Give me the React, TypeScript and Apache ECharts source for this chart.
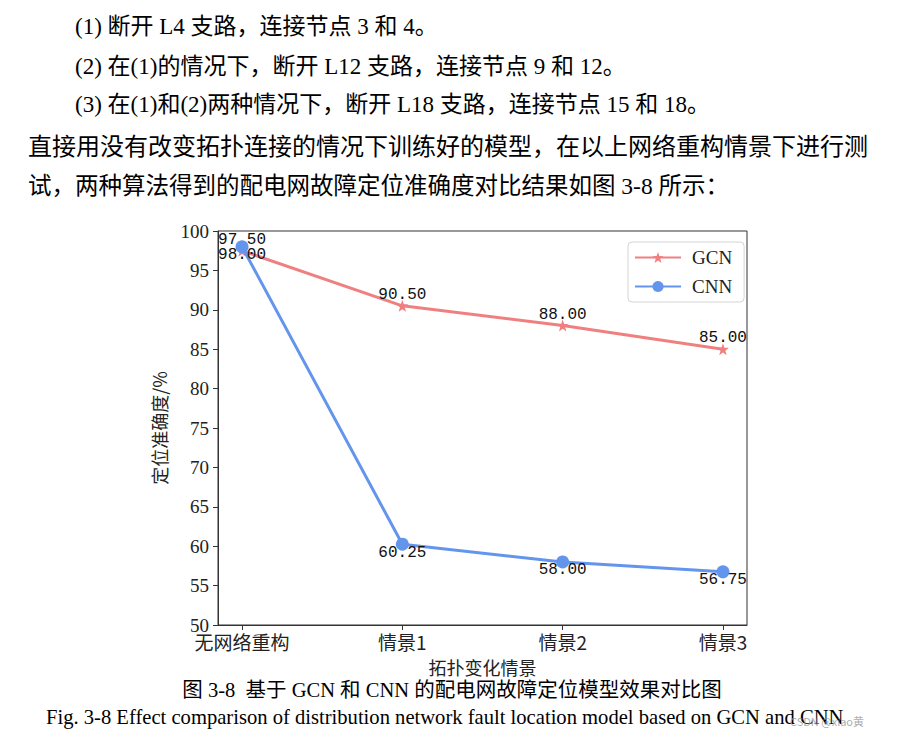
import React, { useEffect, useRef } from "react";
import * as echarts from "echarts";

const categories = ["无网络重构", "情景1", "情景2", "情景3"];
const gcnValues = [97.5, 90.5, 88.0, 85.0];
const cnnValues = [98.0, 60.25, 58.0, 56.75];
const seriesNames = ["GCN", "CNN"];
const paragraphLines = [
  "(1) 断开 L4 支路，连接节点 3 和 4。",
  "(2) 在(1)的情况下，断开 L12 支路，连接节点 9 和 12。",
  "(3) 在(1)和(2)两种情况下，断开 L18 支路，连接节点 15 和 18。",
  "直接用没有改变拓扑连接的情况下训练好的模型，在以上网络重构情景下进行测",
  "试，两种算法得到的配电网故障定位准确度对比结果如图 3-8 所示：",
];
const captionCn = "图 3-8  基于 GCN 和 CNN 的配电网故障定位模型效果对比图";
const captionEn =
  "Fig. 3-8 Effect comparison of distribution network fault location model based on GCN and CNN";
const watermark = "CSDN @xiao黄";

const STAR =
  "path://M0,-10 L2.35,-3.24 L9.51,-3.09 L3.8,1.24 L5.88,8.09 L0,4 L-5.88,8.09 L-3.8,1.24 L-9.51,-3.09 L-2.35,-3.24Z";

const docFont = "'Liberation Serif', 'Noto Sans CJK SC', serif";

export default function App() {
  const ref = useRef<HTMLDivElement>(null);
  useEffect(() => {
    document.body.style.margin = "0";
    const chart = echarts.init(ref.current!, undefined, { renderer: "svg" });
    const lineY = [28, 68, 106, 148, 187];
    const lineX = [75, 75, 75, 28, 28];
    const lineSize = [23, 23, 23, 24, 23.5];
    const graphics: any[] = paragraphLines.map((t, i) => ({
      type: "text",
      left: lineX[i],
      top: lineY[i] - 13,
      style: { text: t, font: `${lineSize[i]}px ${docFont}`, fill: "#000" },
    }));
    graphics.push({
      type: "text",
      left: "center",
      top: 680,
      style: { text: captionCn, font: `20.5px ${docFont}`, fill: "#000" },
    });
    graphics.push({
      type: "text",
      left: 46,
      top: 706,
      style: { text: captionEn, font: `20.6px 'Liberation Serif', serif`, fill: "#000" },
    });
    graphics.push({
      type: "text",
      left: 790,
      top: 715,
      style: { text: watermark, font: `11px 'Noto Sans CJK SC', sans-serif`, fill: "rgba(150,150,150,0.8)" },
    });

    const mk = (vals: number[]) => vals.map((v, i) => [i, v]);
    const labelFont = {
      fontFamily: "'Liberation Mono', monospace",
      fontSize: 16,
      color: "#111",
      formatter: (p: any) => Number(p.value[1]).toFixed(2),
    };
    chart.setOption({
      animation: false,
      graphic: graphics,
      grid: {
        left: 218,
        top: 231,
        right: 157,
        bottom: 114,
        show: true,
        borderColor: "#333",
        borderWidth: 1,
        backgroundColor: "transparent",
      },
      legend: {
        data: seriesNames,
        orient: "vertical",
        left: 628,
        top: 242,
        padding: [6, 12, 6, 6],
        itemGap: 10,
        itemWidth: 46,
        itemHeight: 14,
        borderColor: "#d4d4d4",
        borderWidth: 1,
        borderRadius: 4,
        textStyle: { fontFamily: "'Liberation Serif', serif", fontSize: 19, color: "#222", padding: [0, 0, 0, 6] },
      },
      xAxis: {
        type: "value",
        min: -0.15,
        max: 3.15,
        name: "拓扑变化情景",
        nameLocation: "middle",
        nameGap: 33,
        nameTextStyle: { fontFamily: "'Noto Sans CJK SC', sans-serif", fontSize: 18, color: "#222" },
        splitLine: { show: false },
        axisLine: { onZero: false, lineStyle: { color: "#333", width: 1 } },
        axisTick: { show: true, length: 5, inside: false, customValues: [0, 1, 2, 3], lineStyle: { color: "#333" } },
        axisLabel: {
          customValues: [0, 1, 2, 3],
          margin: 7,
          fontFamily: "'Noto Sans CJK SC', sans-serif",
          fontSize: 19,
          color: "#222",
          formatter: (v: number) => categories[Math.round(v)] ?? "",
        },
      },
      yAxis: {
        type: "value",
        min: 50,
        max: 100,
        interval: 5,
        name: "定位准确度/%",
        nameLocation: "middle",
        nameGap: 50,
        nameRotate: 90,
        nameTextStyle: { fontFamily: "'Noto Sans CJK SC', sans-serif", fontSize: 18, color: "#222" },
        splitLine: { show: false },
        axisLine: { show: true, onZero: false, lineStyle: { color: "#333", width: 1 } },
        axisTick: { show: true, length: 5, lineStyle: { color: "#333" } },
        axisLabel: { margin: 9, fontFamily: "'Liberation Serif', serif", fontSize: 19, color: "#222" },
      },
      series: [
        {
          name: seriesNames[0],
          type: "line",
          data: mk(gcnValues),
          symbol: STAR,
          symbolSize: 12,
          color: "#F08080",
          lineStyle: { width: 3, color: "#F08080" },
          itemStyle: { color: "#F08080" },
          label: { show: true, position: "top", distance: -3, ...labelFont },
          z: 2,
        },
        {
          name: seriesNames[1],
          type: "line",
          data: mk(cnnValues),
          symbol: "circle",
          symbolSize: 13,
          color: "#6495ED",
          lineStyle: { width: 3, color: "#6495ED" },
          itemStyle: { color: "#6495ED" },
          label: { show: true, position: "bottom", distance: -6, ...labelFont },
          z: 3,
        },
      ],
    });
    return () => chart.dispose();
  }, []);
  return <div ref={ref} style={{ width: 904, height: 739 }} />;
}
